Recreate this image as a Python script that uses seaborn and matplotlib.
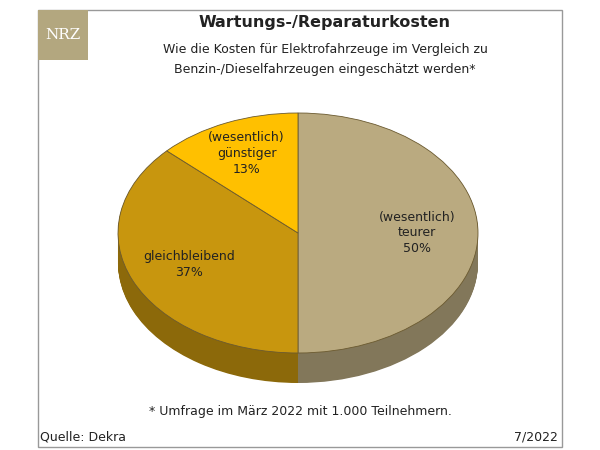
import matplotlib
matplotlib.use("Agg")
import matplotlib.pyplot as plt
import seaborn as sns
import numpy as np
from matplotlib.patches import Rectangle
import matplotlib.colors as mc

sns.set_theme(style="white")
categories = ["(wesentlich)\nteurer", "gleichbleibend", "(wesentlich)\ngünstiger"]
values = [50, 37, 13]
colors = ["#BAAA80", "#C8960E", "#FFC000"]

fig = plt.figure(figsize=(6, 4.5), dpi=100)
fig.patch.set_facecolor("white")
fig.add_artist(Rectangle((38/600, 3/450), 524/600, 437/450, transform=fig.transFigure,
                         fill=False, edgecolor="#999999", lw=1))
fig.add_artist(Rectangle((38/600, 390/450), 50/600, 50/450, transform=fig.transFigure,
                         facecolor="#B3A77F", edgecolor="none"))
fig.text(63/600, 1-35/450, "NRZ", color="white", fontsize=11, family="DejaVu Serif",
         ha="center", va="center")
fig.text(325/600, 1-22/450, "Wartungs-/Reparaturkosten", fontsize=11.5, weight="bold",
         ha="center", va="center", color="#222222")
fig.text(325/600, 1-50/450, "Wie die Kosten für Elektrofahrzeuge im Vergleich zu", fontsize=9,
         ha="center", va="center", color="#222222")
fig.text(325/600, 1-70/450, "Benzin-/Dieselfahrzeugen eingeschätzt werden*", fontsize=9,
         ha="center", va="center", color="#222222")
fig.text(300/600, 1-412/450, "* Umfrage im März 2022 mit 1.000 Teilnehmern.", fontsize=9,
         ha="center", va="center", color="#222222")
fig.text(40/600, 1-437/450, "Quelle: Dekra", fontsize=9, ha="left", va="center", color="#222222")
fig.text(558/600, 1-437/450, "7/2022", fontsize=9, ha="right", va="center", color="#222222")

ax = fig.add_axes([118/600, 67/450, 360/600, 270/450])
depth = 0.25
dark = [tuple(np.array(mc.to_rgb(c)) * 0.7) for c in colors]
for k in np.linspace(depth, 0.005, 40):
    ax.pie(values, colors=dark, startangle=90, counterclock=False, center=(0, -k),
           wedgeprops=dict(linewidth=0))
ax.pie(values, colors=colors, startangle=90, counterclock=False, center=(0, 0),
       wedgeprops=dict(linewidth=0.6, edgecolor="#6b5a30"))
ax.set_aspect("auto")
ax.set_xlim(-1.0, 1.0)
ax.set_ylim(-1 - depth, 1.0)
ax.axis("off")

total = sum(values)
ang = 90
for cat, v in zip(categories, values):
    mid = np.deg2rad(ang - v / total * 180)
    ang -= v / total * 360
    r = 0.72 if v < 20 else 0.66
    ax.text(r*np.cos(mid), r*np.sin(mid), f"{cat}\n{v}%", ha="center", va="center",
            fontsize=9, color="#222222", linespacing=1.3)

fig.savefig("out.png", dpi=100, facecolor="white")
